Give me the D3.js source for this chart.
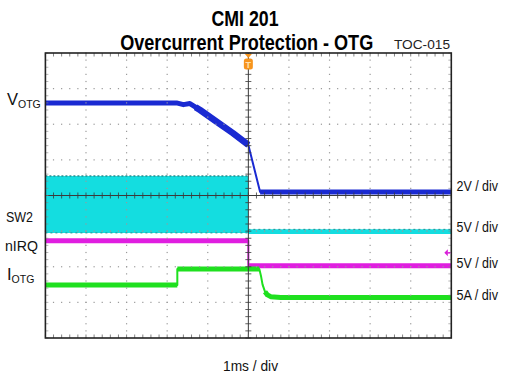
<!DOCTYPE html>
<html><head><meta charset="utf-8">
<script src="https://cdn.jsdelivr.net/npm/d3@7"></script>
<style>html,body{margin:0;padding:0;background:#fff;}svg{display:block;}</style>
</head><body>
<svg id="c" width="505" height="379"></svg>
<script>
// ---- data (time in ms, levels in screen divisions) ----
const votgT = [-5, -1.77, -1.6, -1.44, -1.3, -1.19, -0.78, -0.38, 0, 0.29, 5];
const votgV = [2.60, 2.60, 2.55, 2.58, 2.48, 2.40, 2.07, 1.75, 1.42, 0.10, 0.10];
const sw2T  = [-5, 0, 0, 5];
const sw2Hi = [0.55, 0.55, -0.95, -0.95];
const sw2Lo = [-1.05, -1.05, -1.08, -1.08];
const irqT  = [-5, 0, 0, 5];
const irqV  = [-1.27, -1.27, -1.97, -1.97];
const iotgT = [-5, -1.75, -1.75, 0.27, 0.31, 0.35, 0.41, 0.47, 0.55, 0.8, 5];
const iotgV = [-2.51, -2.51, -2.06, -2.06, -2.25, -2.5, -2.7, -2.79, -2.84, -2.86, -2.86];
const irqMarker = -1.61;
const leftLabels = [["V","OTG",2.68],["SW2","",-0.6],["nIRQ","",-1.42],["I","OTG",-2.23]];
const rightLabels = ["2V / div","5V / div","5V / div","5A / div"];
const rightLevels = [0.275,-0.876,-1.895,-2.79];
const titleLines = ["CMI 201","Overcurrent Protection - OTG"];
const xLabel = "1ms / div";
const tocLabel = "TOC-015";

const svg = d3.select("#c");
const x = d3.scaleLinear().domain([-5,5]).range([45.4,451.3]);
const y = d3.scaleLinear().domain([-4,4]).range([338,53]);
const font = "'Liberation Sans Narrow','Liberation Sans',Arial,sans-serif";

// ---- traces ----
const g = svg.append("g");
const sw = sw2T.map((t,i)=>({t,hi:sw2Hi[i],lo:sw2Lo[i]}));
g.append("path").datum(sw).attr("fill","#14dde0")
  .attr("d", d3.area().x(d=>x(d.t)).y0(d=>y(d.lo)).y1(d=>y(d.hi)));
g.append("path").datum(sw.slice(0,2)).attr("fill","none").attr("stroke","#2b8f8f")
  .attr("stroke-width",1.5).attr("stroke-dasharray","2,2")
  .attr("d", d3.line().x(d=>x(d.t)).y(d=>y(d.hi)));
g.append("path").datum(sw.slice(0,2)).attr("fill","none").attr("stroke","#2b8f8f")
  .attr("stroke-width",1).attr("stroke-dasharray","2,3")
  .attr("d", d3.line().x(d=>x(d.t)).y(d=>y(d.lo)));
g.append("path").datum(sw.slice(2)).attr("fill","none").attr("stroke","#2b8f8f")
  .attr("stroke-width",1).attr("stroke-dasharray","2,3")
  .attr("d", d3.line().x(d=>x(d.t)).y(d=>y(d.hi)));

const lineGen = d3.line().x(d=>x(d[0])).y(d=>y(d[1]));
function trace(T,V,color,w){
  const pts = T.map((t,i)=>[t,V[i]]);
  // thin pass for fast edges
  g.append("path").datum(pts).attr("fill","none").attr("stroke",color)
   .attr("stroke-width",2).attr("stroke-linejoin","round").attr("d",lineGen);
  // thick pass (noise band) on slow segments
  let run = [];
  const flush = ()=>{ if(run.length>1) g.append("path").datum(run).attr("fill","none")
      .attr("stroke",color).attr("stroke-width",w).attr("stroke-linejoin","round").attr("d",lineGen); run=[]; };
  for(let i=0;i<pts.length-1;i++){
    const dt = pts[i+1][0]-pts[i][0], dv = Math.abs(pts[i+1][1]-pts[i][1]);
    if(dt>0 && dv/dt < 2){ if(!run.length) run.push(pts[i]); run.push(pts[i+1]); }
    else flush();
  }
  flush();
}
trace(irqT,irqV,"#e01ee0",5);
trace(iotgT,iotgV,"#1fe01f",5);
trace(votgT,votgV,"#1a2ad2",5);
g.append("path").datum(votgT.slice(4,9).map((t,i)=>[t,votgV[i+4]])).attr("fill","none")
  .attr("stroke","#1a2ad2").attr("stroke-width",6.5).attr("stroke-linejoin","round").attr("d",lineGen);

// ---- grid ----
const grid = svg.append("g");
const minorY = d3.range(-4,4.001,0.2), minorX = d3.range(-5,5.001,0.2);
[-4,-3,-2,-1,1,2,3,4].forEach(t=>{
  minorY.forEach(v=>grid.append("rect").attr("x",x(t)-0.6).attr("y",y(v)-0.6)
    .attr("width",1.2).attr("height",1.2).attr("fill","#9a9a9a"));
});
[-3,-2,-1,1,2,3].forEach(v=>{
  minorX.forEach(t=>grid.append("rect").attr("x",x(t)-0.6).attr("y",y(v)-0.6)
    .attr("width",1.2).attr("height",1.2).attr("fill","#9a9a9a"));
});
grid.append("line").attr("x1",x(-5)).attr("x2",x(5)).attr("y1",y(0)).attr("y2",y(0))
  .attr("stroke","#3a3a3a").attr("stroke-width",1);
grid.append("line").attr("x1",x(0)).attr("x2",x(0)).attr("y1",y(-4)).attr("y2",y(4))
  .attr("stroke","#3a3a3a").attr("stroke-width",1);
minorX.forEach(t=>grid.append("line").attr("x1",x(t)).attr("x2",x(t))
  .attr("y1",y(0)-3).attr("y2",y(0)+3).attr("stroke","#3a3a3a").attr("stroke-width",0.8));
minorY.forEach(v=>grid.append("line").attr("y1",y(v)).attr("y2",y(v))
  .attr("x1",x(0)-3).attr("x2",x(0)+3).attr("stroke","#3a3a3a").attr("stroke-width",0.8));
minorX.forEach(t=>{
  grid.append("line").attr("x1",x(t)).attr("x2",x(t)).attr("y1",y(4)).attr("y2",y(4)+3.5)
    .attr("stroke","#666").attr("stroke-width",0.8);
  grid.append("line").attr("x1",x(t)).attr("x2",x(t)).attr("y1",y(-4)).attr("y2",y(-4)-3.5)
    .attr("stroke","#666").attr("stroke-width",0.8);
});
minorY.forEach(v=>{
  grid.append("line").attr("y1",y(v)).attr("y2",y(v)).attr("x1",x(-5)).attr("x2",x(-5)+3)
    .attr("stroke","#888").attr("stroke-width",0.6);
  grid.append("line").attr("y1",y(v)).attr("y2",y(v)).attr("x1",x(5)).attr("x2",x(5)-3)
    .attr("stroke","#888").attr("stroke-width",0.6);
});
svg.append("rect").attr("x",x(-5)).attr("y",y(4)).attr("width",x(5)-x(-5)).attr("height",y(-4)-y(4))
  .attr("fill","none").attr("stroke","#222").attr("stroke-width",1.6);

// trigger marker
const tx = x(0);
svg.append("path").attr("d",`M${tx-3.5},${y(4)+1}L${tx+3.5},${y(4)+1}L${tx},${y(4)+5}Z`).attr("fill","#f7941d");
svg.append("rect").attr("x",tx-4.5).attr("y",y(4)+5.5).attr("width",9).attr("height",11).attr("rx",2.5)
  .attr("fill","#f7941d");
svg.append("text").attr("x",tx).attr("y",y(4)+14.5).attr("text-anchor","middle")
  .attr("font-family",font).attr("font-size",9).attr("font-weight","bold").attr("fill","#fde0b0").text("T");
// nIRQ ground marker
const my = y(irqMarker), mx = x(5)-2;
svg.append("path").attr("d",`M${mx-5},${my}L${mx-1.5},${my-3.5}L${mx-1.5},${my+3.5}Z`).attr("fill","#d81ed8");
svg.append("line").attr("x1",mx-2).attr("x2",mx+1).attr("y1",my).attr("y2",my).attr("stroke","#d81ed8").attr("stroke-width",1.5);

// ---- texts ----
function title(txt, cx, base, len){
  svg.append("text").attr("transform",`translate(${cx},${base}) scale(1,1.27)`)
    .attr("text-anchor","middle").attr("font-family",font).attr("font-size",18)
    .attr("font-weight","bold").attr("textLength",len).attr("lengthAdjust","spacingAndGlyphs").text(txt);
}
title(titleLines[0], 245, 26, 67);
title(titleLines[1], 246.7, 49.5, 253);
svg.append("text").attr("x",394).attr("y",49).attr("font-family",font).attr("font-size",12.5)
  .attr("fill","#222").attr("textLength",56).attr("lengthAdjust","spacingAndGlyphs").text(tocLabel);
svg.append("text").attr("x",250.5).attr("y",371).attr("text-anchor","middle").attr("font-family",font)
  .attr("font-size",14).attr("fill","#111").attr("textLength",55).attr("lengthAdjust","spacingAndGlyphs").text(xLabel);

leftLabels.forEach(([main,sub,lv])=>{
  const t = svg.append("text").attr("font-family",font).attr("fill","#111")
    .attr("y", y(lv)+5);
  if(sub){
    t.attr("x",7);
    t.append("tspan").attr("font-size",16.5).text(main);
    t.append("tspan").attr("font-size",10.5).attr("dy",3).text(sub);
  } else {
    t.attr("x",main==="SW2"?6:5).attr("font-size",14.5)
     .attr("textLength",main==="SW2"?27:33).attr("lengthAdjust","spacingAndGlyphs").text(main);
  }
});
rightLabels.forEach((s,i)=>{
  svg.append("text").attr("x",456.5).attr("y",y(rightLevels[i])+5).attr("font-family",font)
    .attr("font-size",14).attr("fill","#111").attr("textLength",41.5).attr("lengthAdjust","spacingAndGlyphs").text(s);
});
</script>
</body></html>
